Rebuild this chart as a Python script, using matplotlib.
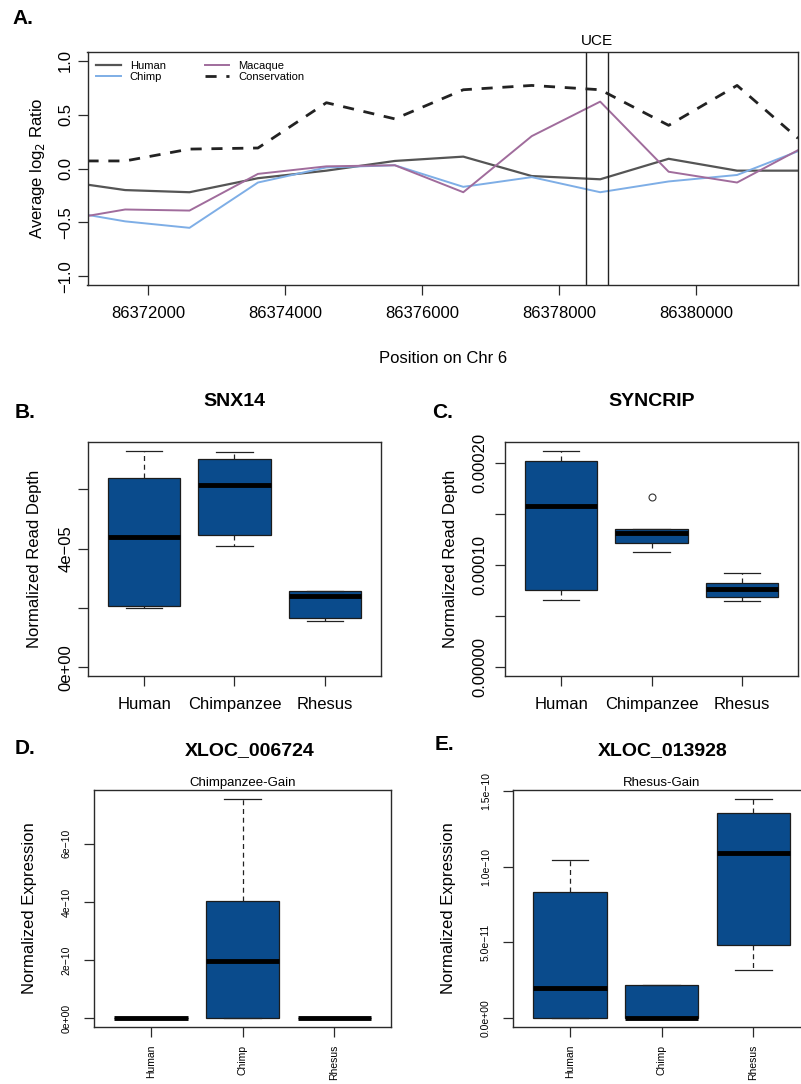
import numpy as np
import matplotlib
matplotlib.use("Agg")
import matplotlib.pyplot as plt
from matplotlib.lines import Line2D

plt.rcParams['font.family'] = ['Liberation Sans', 'DejaVu Sans']
plt.rcParams['axes.unicode_minus'] = True

# ---- Panel A data (average log2 ratio along chr 6) ----
positions = [86371110, 86371660, 86372600, 86373600, 86374600, 86375600,
             86376600, 86377600, 86378600, 86379600, 86380600, 86381490]
human = [-0.15, -0.20, -0.22, -0.09, -0.02, 0.07, 0.11, -0.07, -0.10, 0.09, -0.02, -0.02]
chimp = [-0.43, -0.49, -0.55, -0.13, 0.01, 0.03, -0.17, -0.08, -0.22, -0.12, -0.06, 0.16]
macaque = [-0.44, -0.38, -0.39, -0.05, 0.02, 0.03, -0.22, 0.30, 0.62, -0.03, -0.13, 0.17]
conservation = [0.07, 0.07, 0.18, 0.19, 0.61, 0.46, 0.73, 0.77, 0.73, 0.40, 0.77, 0.28]
uce_bounds = [86378400, 86378710]
pos_ticks = [86372000, 86374000, 86376000, 86378000, 86380000]

# ---- box plot summaries: [whisker low, q1, median, q3, whisker high] ----
groups_long = ['Human', 'Chimpanzee', 'Rhesus']
groups_short = ['Human', 'Chimp', 'Rhesus']

snx14 = [[1.99e-5, 2.08e-5, 4.38e-5, 6.40e-5, 7.30e-5],
         [4.10e-5, 4.47e-5, 6.15e-5, 7.04e-5, 7.26e-5],
         [1.55e-5, 1.66e-5, 2.41e-5, 2.59e-5, 2.59e-5]]
syncrip = [[0.662e-4, 0.754e-4, 1.587e-4, 2.02e-4, 2.125e-4],
           [1.128e-4, 1.216e-4, 1.318e-4, 1.36e-4, 1.36e-4],
           [0.649e-4, 0.689e-4, 0.764e-4, 0.83e-4, 0.925e-4]]
syncrip_outliers = [[], [1.672e-4], []]
xloc_006724 = [[0, 0, 0, 0, 0],
               [0, 0, 1.97e-10, 4.05e-10, 7.55e-10],
               [0, 0, 0, 0, 0]]
xloc_013928 = [[0, 0, 0.202e-10, 0.831e-10, 1.041e-10],
               [0, 0, 0, 0.217e-10, 0.217e-10],
               [0.321e-10, 0.483e-10, 1.092e-10, 1.354e-10, 1.447e-10]]

BLUE = '#0a4b8c'
EDGE = '#2a2a2a'

fig = plt.figure(figsize=(8.01, 10.84), dpi=100)
W, H = 801.0, 1084.0


def axes_px(x0, x1, y0, y1):
    return fig.add_axes([x0 / W, 1 - y1 / H, (x1 - x0) / W, (y1 - y0) / H])


def style_axes(ax):
    for s in ax.spines.values():
        s.set_color(EDGE)
        s.set_linewidth(1.0)
    ax.tick_params(direction='out', length=7, width=0.9, color=EDGE)


def draw_box(ax, summary, fliers=None):
    stats = []
    for i, (lo, q1, med, q3, hi) in enumerate(summary):
        fl = fliers[i] if fliers else []
        stats.append(dict(whislo=lo, q1=q1, med=med, q3=q3, whishi=hi, fliers=fl))
    ax.bxp(stats, positions=[1, 2, 3], widths=0.8, patch_artist=True, capwidths=0.4,
           boxprops=dict(facecolor=BLUE, edgecolor='#1c1c1c', linewidth=0.9),
           medianprops=dict(color='black', linewidth=3.5, solid_capstyle='butt'),
           whiskerprops=dict(color='#222222', linestyle=(0, (4, 3)), linewidth=0.9),
           capprops=dict(color='#222222', linewidth=0.9),
           flierprops=dict(marker='o', markerfacecolor='none', markeredgecolor='#333333',
                           markersize=5, markeredgewidth=0.8))
    ax.set_xlim(0.38, 3.62)
    style_axes(ax)


# ---------------- Panel A ----------------
axA = axes_px(87.5, 798, 52, 285)
axA.plot(positions, human, color='#555555', lw=1.6)
axA.plot(positions, chimp, color='#7eaee6', lw=1.4)
axA.plot(positions, macaque, color='#a06c9c', lw=1.4)
axA.plot(positions, conservation, color='#222222', lw=2.0, ls=(0, (4, 3.5)))
for b in uce_bounds:
    axA.axvline(b, color='#222222', lw=1.0)
axA.text(np.mean(uce_bounds), 1.12, 'UCE', ha='center', va='bottom', fontsize=11,
         transform=axA.transData)
axA.set_xlim(positions[0], positions[-1])
axA.set_ylim(-1.08, 1.08)
axA.set_xticks(pos_ticks)
axA.set_xticklabels([str(p) for p in pos_ticks], fontsize=12)
axA.set_yticks([-1.0, -0.5, 0.0, 0.5, 1.0])
axA.set_yticklabels(['\u22121.0', '\u22120.5', '0.0', '0.5', '1.0'], fontsize=12,
                    rotation=90, va='center')
axA.set_ylabel('Average log$_2$ Ratio', fontsize=12, labelpad=8)
axA.set_xlabel('Position on Chr 6', fontsize=12, labelpad=22)
style_axes(axA)
axA.tick_params(axis='x', pad=8)
handles = [Line2D([], [], color='#555555', lw=1.6),
           Line2D([], [], color='#7eaee6', lw=1.4),
           Line2D([], [], color='#a06c9c', lw=1.4),
           Line2D([], [], color='#222222', lw=2.0, ls=(0, (4, 3.5)))]
axA.legend(handles, ['Human', 'Chimp', 'Macaque', 'Conservation'], ncol=2, loc='upper left',
           frameon=False, fontsize=8, handlelength=2.2, columnspacing=3.5,
           labelspacing=0.1, borderaxespad=0.4, handletextpad=0.8)
fig.text(12 / W, 1 - 18 / H, 'A.', fontsize=15, fontweight='bold', va='center')

# ---------------- Panel B ----------------
axB = axes_px(88, 381, 442, 676)
draw_box(axB, snx14)
axB.set_ylim(-0.29e-5, 7.6e-5)
axB.set_yticks([0, 2e-5, 4e-5, 6e-5])
axB.set_yticklabels(['0e+00', '', '4e\u221205', ''], fontsize=12, rotation=90, va='center')
axB.set_xticks([1, 2, 3])
axB.set_xticklabels(groups_long, fontsize=12)
axB.tick_params(axis='x', pad=8)
axB.set_ylabel('Normalized Read Depth', fontsize=12, labelpad=12)
axB.set_title('SNX14', fontsize=14, fontweight='bold', pad=26)
fig.text(15 / W, 1 - 412 / H, 'B.', fontsize=15, fontweight='bold', va='center')

# ---------------- Panel C ----------------
axC = axes_px(505, 798, 442, 676)
draw_box(axC, syncrip, syncrip_outliers)
axC.set_ylim(-0.085e-4, 2.21e-4)
axC.set_yticks([0, 0.5e-4, 1e-4, 1.5e-4, 2e-4])
axC.set_yticklabels(['0.00000', '', '0.00010', '', '0.00020'], fontsize=12,
                    rotation=90, va='center')
axC.tick_params(axis='y', pad=6)
axC.set_xticks([1, 2, 3])
axC.set_xticklabels(groups_long, fontsize=12)
axC.tick_params(axis='x', pad=8)
axC.set_ylabel('Normalized Read Depth', fontsize=12, labelpad=10)
axC.set_title('SYNCRIP', fontsize=14, fontweight='bold', pad=26)
fig.text(432 / W, 1 - 412 / H, 'C.', fontsize=15, fontweight='bold', va='center')

# ---------------- Panel D ----------------
axD = axes_px(94, 391, 790, 1027)
draw_box(axD, xloc_006724)
axD.set_ylim(-0.30e-10, 7.85e-10)
axD.set_yticks([0, 2e-10, 4e-10, 6e-10])
axD.set_yticklabels(['0e+00', '2e\u221210', '4e\u221210', '6e\u221210'], fontsize=7.5,
                    rotation=90, va='center')
axD.tick_params(axis='y', pad=9)
axD.set_xticks([1, 2, 3])
axD.set_xticklabels(groups_short, fontsize=7.5, rotation=90)
axD.tick_params(axis='x', pad=6)
axD.set_ylabel('Normalized Expression', fontsize=12, labelpad=18)
axD.set_title('Chimpanzee-Gain', fontsize=9.5, pad=3)
fig.text(250 / W, 1 - 751 / H, 'XLOC_006724', fontsize=14, fontweight='bold',
         ha='center', va='center')
fig.text(15 / W, 1 - 748 / H, 'D.', fontsize=15, fontweight='bold', va='center')

# ---------------- Panel E ----------------
axE = axes_px(513, 810, 790, 1027)
draw_box(axE, xloc_013928)
axE.set_ylim(-0.058e-10, 1.505e-10)
axE.set_yticks([0, 0.5e-10, 1.0e-10, 1.5e-10])
axE.set_yticklabels(['0.0e+00', '5.0e\u221211', '1.0e\u221210', '1.5e\u221210'], fontsize=7.5,
                    rotation=90, va='center')
axE.tick_params(axis='y', pad=9)
axE.set_xticks([1, 2, 3])
axE.set_xticklabels(groups_short, fontsize=7.5, rotation=90)
axE.tick_params(axis='x', pad=6)
axE.set_ylabel('Normalized Expression', fontsize=12, labelpad=18)
axE.set_title('Rhesus-Gain', fontsize=9.5, pad=3)
fig.text(663 / W, 1 - 751 / H, 'XLOC_013928', fontsize=14, fontweight='bold',
         ha='center', va='center')
fig.text(435 / W, 1 - 745 / H, 'E.', fontsize=15, fontweight='bold', va='center')

fig.savefig('out.png', dpi=100)
